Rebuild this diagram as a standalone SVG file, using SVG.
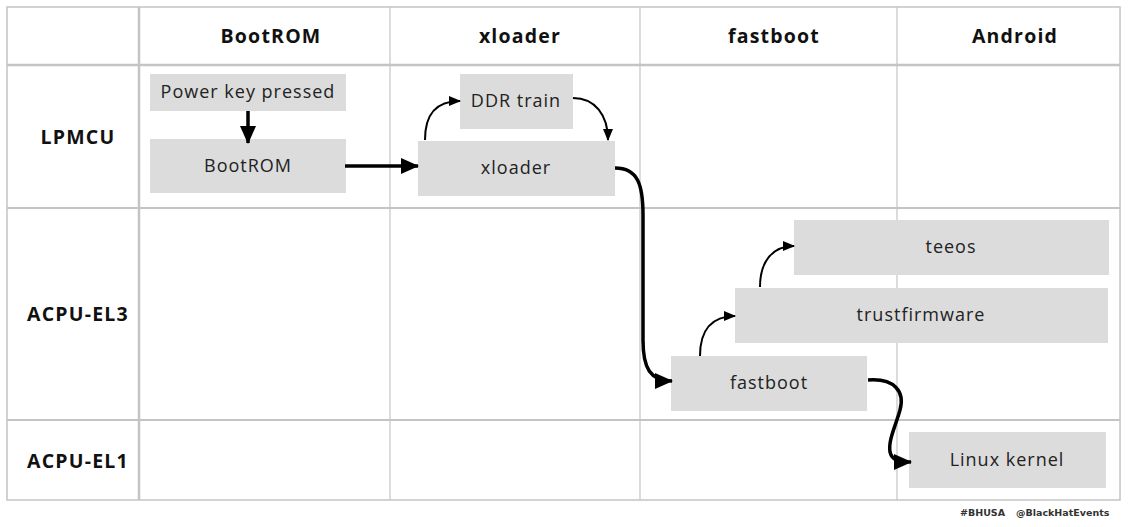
<svg xmlns="http://www.w3.org/2000/svg" width="1128" height="527" viewBox="0 0 1128 527">
<style>
.hdr{font-family:"Open Sans","Liberation Sans",sans-serif;font-weight:700;font-size:19.5px;letter-spacing:1.2px;fill:#111;text-anchor:middle}
.lbl{font-family:"Open Sans","Liberation Sans",sans-serif;font-size:18px;letter-spacing:1px;fill:#222;text-anchor:middle}
.box{fill:#dcdcdc}
.grid{stroke:#c4c4c4;fill:none}
.thick{stroke:#000;stroke-width:3.5;fill:none}
.thin{stroke:#000;stroke-width:2;fill:none}
.foot{font-family:"DejaVu Sans","Liberation Sans",sans-serif;font-weight:700;font-size:9.5px;fill:#333}
</style>
<defs>
<marker id="big" markerUnits="userSpaceOnUse" markerWidth="20" markerHeight="20" refX="17" refY="8" orient="auto"><path d="M0,0 L18,8 L0,16 Z" fill="#000"/></marker>
<marker id="small" markerUnits="userSpaceOnUse" markerWidth="14" markerHeight="14" refX="11" refY="5" orient="auto"><path d="M0,0 L12,5 L0,10 Z" fill="#000"/></marker>
</defs>
<rect x="0" y="0" width="1128" height="527" fill="#fff"/>
<g id="grid">
<rect class="grid" x="7" y="7" width="1113" height="493" stroke-width="1.5"/>
<line class="grid" x1="139" y1="7" x2="139" y2="500" stroke-width="2.5"/>
<line class="grid" x1="390" y1="7" x2="390" y2="500" stroke-width="1.2"/>
<line class="grid" x1="640" y1="7" x2="640" y2="500" stroke-width="1.2"/>
<line class="grid" x1="897" y1="7" x2="897" y2="500" stroke-width="1.2"/>
<line class="grid" x1="7" y1="65" x2="1120" y2="65" stroke-width="2.5"/>
<line class="grid" x1="7" y1="208" x2="1120" y2="208" stroke-width="1.8"/>
<line class="grid" x1="7" y1="420" x2="1120" y2="420" stroke-width="1.8"/>
</g>
<g id="headers">
<text class="hdr" x="271" y="43">BootROM</text>
<text class="hdr" x="520" y="43">xloader</text>
<text class="hdr" x="774" y="43">fastboot</text>
<text class="hdr" x="1015" y="43">Android</text>
<text class="hdr" x="78" y="144">LPMCU</text>
<text class="hdr" x="78" y="321">ACPU-EL3</text>
<text class="hdr" x="78" y="468">ACPU-EL1</text>
</g>
<g id="n-power"><rect class="box" x="150" y="74" width="196" height="37"/><text class="lbl" x="248" y="98">Power key pressed</text></g>
<g id="n-bootrom"><rect class="box" x="150" y="139" width="196" height="54"/><text class="lbl" x="248" y="172">BootROM</text></g>
<g id="n-ddr"><rect class="box" x="460" y="74" width="113" height="55"/><text class="lbl" x="516" y="107">DDR train</text></g>
<g id="n-xloader"><rect class="box" x="418" y="141" width="197" height="55"/><text class="lbl" x="516" y="174">xloader</text></g>
<g id="n-teeos"><rect class="box" x="794" y="220" width="315" height="55"/><text class="lbl" x="951" y="253">teeos</text></g>
<g id="n-tf"><rect class="box" x="735" y="288" width="373" height="55"/><text class="lbl" x="921" y="321">trustfirmware</text></g>
<g id="n-fastboot"><rect class="box" x="671" y="356" width="196" height="55"/><text class="lbl" x="769" y="389">fastboot</text></g>
<g id="n-linux"><rect class="box" x="909" y="432" width="197" height="56"/><text class="lbl" x="1007" y="466">Linux kernel</text></g>
<g id="connectors">
<path class="thick" d="M248,111 L248,143" marker-end="url(#big)"/>
<path class="thick" d="M345,166 L418,166" marker-end="url(#big)"/>
<path class="thin" d="M425,140 C425,115 435,101 460,101" marker-end="url(#small)"/>
<path class="thin" d="M573,98 C595,98 608,115 608,140" marker-end="url(#small)"/>
<path class="thick" d="M615,168 C638,168 643,185 643,215 L643,340 C643,368 650,381 672,381" marker-end="url(#big)"/>
<path class="thin" d="M700,356 C700,330 712,316 735,316" marker-end="url(#small)"/>
<path class="thin" d="M760,287 C760,262 772,246 794,246" marker-end="url(#small)"/>
<path class="thick" d="M868,380 C895,378 905,392 900,410 C896,425 888,440 890,452 C892,460 898,462 911,462" marker-end="url(#big)"/>
</g>
<g id="footer"><text class="foot" x="960" y="516">#BHUSA</text><text class="foot" x="1016" y="516">@BlackHatEvents</text></g>
</svg>
